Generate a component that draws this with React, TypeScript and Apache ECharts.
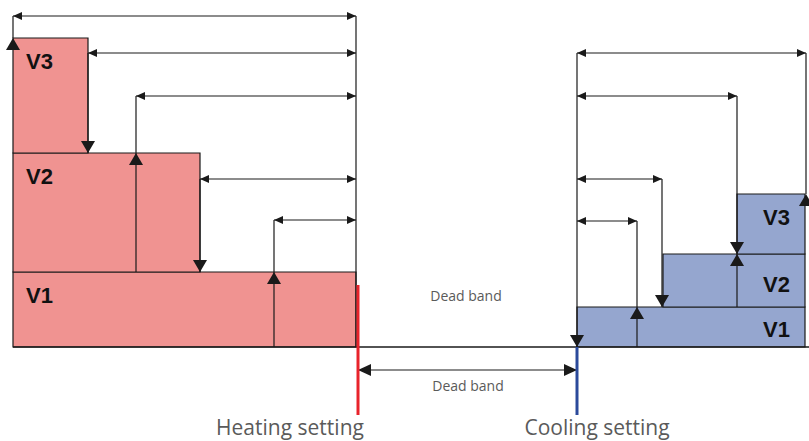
import React, { useEffect, useRef } from "react";
import * as echarts from "echarts";

// ---- data (x: temperature scale units, y: capacity level units; 0 = baseline) ----
const stepLabels = ["V1", "V2", "V3"];

const heatLeft = 13;
const heatRight = [356, 200, 88];
const heatBottom = [0, 75, 194];
const heatTop = [75, 194, 309];

const coolRight = 805;
const coolLeft = [577, 663, 737];
const coolBottom = [0, 40, 93];
const coolTop = [40, 93, 153];

const heatSetX = 358;
const coolSetX = 577;
const axisStart = 13;
const axisEnd = 809;

// horizontal dimension arrows: [level, xFrom, xTo]
const heatDims = [
  [331, 13, 356],
  [294, 88, 356],
  [251, 136, 356],
  [168, 200, 356],
  [127, 274, 356],
];
const coolDims = [
  [294, 577, 806],
  [251, 577, 737],
  [168, 577, 662],
  [126, 577, 637],
];
// vertical connectors: [x, levelFrom, levelTo, tipLevel, dir(1 up, -1 down, 0 none)]
const heatVert = [
  [13, 331, 309, 309, 1],
  [88, 294, 194, 194, -1],
  [136, 251, 75, 194, 1],
  [200, 168, 75, 75, -1],
  [274, 127, 0, 75, 1],
  [356, 331, 0, 0, 0],
];
const coolVert = [
  [806, 294, 153, 153, 1],
  [737, 251, 93, 93, -1],
  [662, 168, 40, 40, -1],
  [637, 126, 0, 40, 1],
  [737, 40, 93, 93, 1],
  [577, 294, 0, 0, -1],
];
// setting lines: [x, levelTop, levelBottom]
const settingLines = [
  [heatSetX, 62, -68],
  [coolSetX, 0, -68],
];
const deadBand = [[-23, heatSetX, coolSetX]];

const annoTexts = ["Dead band", "Dead band", "Heating setting", "Cooling setting"];
const annoPos = [
  [466, 52],
  [468, -38],
  [290, -80],
  [597, -80],
];
// cooling label levels (centre of each label)
const coolLabelLevels = [18, 63, 130];

const STROKE = "#1a1a1a";
const PINK = "#f09391";
const BLUE = "#95a6cf";
const TEXT_GRAY = "#5a5a5a";

function head(tip: number[], dir: string, len: number, half: number) {
  const [x, y] = tip;
  let pts: number[][];
  if (dir === "up") pts = [[x, y], [x - half, y + len], [x + half, y + len]];
  else if (dir === "down") pts = [[x, y], [x - half, y - len], [x + half, y - len]];
  else if (dir === "left") pts = [[x, y], [x + len, y - half], [x + len, y + half]];
  else pts = [[x, y], [x - len, y - half], [x - len, y + half]];
  return { type: "polygon", shape: { points: pts }, style: { fill: STROKE } };
}

function line(a: number[], b: number[], color = STROKE, w = 1.2) {
  return {
    type: "line",
    shape: { x1: a[0], y1: a[1], x2: b[0], y2: b[1] },
    style: { stroke: color, lineWidth: w },
  };
}

const heatRects = stepLabels.map((_, i) => [heatLeft, heatRight[i], heatBottom[i], heatTop[i], i]);
const coolRects = stepLabels.map((_, i) => [coolLeft[i], coolRight, coolBottom[i], coolTop[i], i]);

function rectRenderer(fill: string, side: string) {
  return (params: any, api: any) => {
    const x0 = api.value(0), x1 = api.value(1), y0 = api.value(2), y1 = api.value(3);
    const idx = api.value(4);
    const tl = api.coord([x0, y1]);
    const br = api.coord([x1, y0]);
    const children: any[] = [
      {
        type: "rect",
        shape: { x: tl[0], y: tl[1], width: br[0] - tl[0], height: br[1] - tl[1] },
        style: { fill, stroke: STROKE, lineWidth: 1.2 },
      },
    ];
    const textStyle = {
      text: stepLabels[idx],
      font: "bold 22px 'Liberation Sans', Arial, sans-serif",
      fill: "#111",
      verticalAlign: "middle",
    };
    if (side === "left") {
      children.push({ type: "text", x: tl[0] + 13, y: tl[1] + 23, style: { ...textStyle, align: "left" } });
    } else {
      const ly = api.coord([x1, coolLabelLevels[idx]])[1];
      children.push({ type: "text", x: br[0] - 15, y: ly, style: { ...textStyle, align: "right" } });
    }
    return { type: "group", children };
  };
}

function dimRenderer(len: number, half: number) {
  return (params: any, api: any) => {
    const lv = api.value(0), xa = api.value(1), xb = api.value(2);
    const a = api.coord([xa, lv]);
    const b = api.coord([xb, lv]);
    return {
      type: "group",
      children: [line(a, b), head(a, "left", len, half), head(b, "right", len, half)],
    };
  };
}

function vertRenderer(params: any, api: any) {
  const x = api.value(0), ya = api.value(1), yb = api.value(2), tip = api.value(3), dir = api.value(4);
  const a = api.coord([x, ya]);
  const b = api.coord([x, yb]);
  const children: any[] = [line(a, b)];
  if (dir !== 0) {
    const t = api.coord([x, tip]);
    children.push(head(t, dir > 0 ? "up" : "down", 12, 7));
  }
  return { type: "group", children };
}

export default function App() {
  const ref = useRef<HTMLDivElement>(null);
  useEffect(() => {
    const chart = echarts.init(ref.current!, null, { renderer: "svg" });
    const option: any = {
      animation: false,
      grid: { left: 0, right: 0, top: 0, bottom: 0 },
      xAxis: { type: "value", min: 0, max: 809, show: false },
      yAxis: { type: "value", min: -94, max: 347, show: false },
      series: [
        {
          type: "custom",
          silent: true,
          coordinateSystem: "cartesian2d",
          data: heatRects,
          encode: { x: [0, 1], y: [2, 3] },
          renderItem: rectRenderer(PINK, "left"),
          z: 1,
        },
        {
          type: "custom",
          silent: true,
          coordinateSystem: "cartesian2d",
          data: coolRects,
          encode: { x: [0, 1], y: [2, 3] },
          renderItem: rectRenderer(BLUE, "right"),
          z: 1,
        },
        {
          type: "custom",
          silent: true,
          coordinateSystem: "cartesian2d",
          data: [[0, axisStart, axisEnd]],
          encode: { x: [1, 2], y: 0 },
          renderItem: (p: any, api: any) =>
            line(api.coord([api.value(1), api.value(0)]), api.coord([api.value(2), api.value(0)]), STROKE, 1.5),
          z: 2,
        },
        {
          type: "custom",
          silent: true,
          coordinateSystem: "cartesian2d",
          data: [...heatDims, ...coolDims],
          encode: { x: [1, 2], y: 0 },
          renderItem: dimRenderer(9, 4),
          z: 3,
        },
        {
          type: "custom",
          silent: true,
          coordinateSystem: "cartesian2d",
          data: [...heatVert, ...coolVert],
          encode: { x: 0, y: [1, 2] },
          renderItem: vertRenderer,
          z: 3,
        },
        {
          type: "custom",
          silent: true,
          coordinateSystem: "cartesian2d",
          data: deadBand,
          encode: { x: [1, 2], y: 0 },
          renderItem: dimRenderer(13, 6),
          z: 3,
        },
        {
          type: "custom",
          silent: true,
          coordinateSystem: "cartesian2d",
          data: settingLines,
          encode: { x: 0, y: [1, 2] },
          renderItem: (p: any, api: any) =>
            line(
              api.coord([api.value(0), api.value(1)]),
              api.coord([api.value(0), api.value(2)]),
              p.dataIndex === 0 ? "#e8232b" : "#2b4a9b",
              3
            ),
          z: 4,
        },
        {
          type: "custom",
          silent: true,
          coordinateSystem: "cartesian2d",
          data: annoPos.map((p, i) => [p[0], p[1], i]),
          encode: { x: 0, y: 1 },
          renderItem: (p: any, api: any) => {
            const i = api.value(2);
            const c = api.coord([api.value(0), api.value(1)]);
            const big = i >= 2;
            return {
              type: "text",
              x: c[0],
              y: c[1],
              style: {
                text: annoTexts[i],
                font: `${big ? 21 : 14}px 'Open Sans', 'Noto Sans', sans-serif`,
                fill: TEXT_GRAY,
                align: "center",
                verticalAlign: "middle",
              },
            };
          },
          z: 5,
        },
      ],
    };
    chart.setOption(option);
    return () => chart.dispose();
  }, []);
  return (
    <div
      ref={ref}
      style={{ position: "fixed", left: 0, top: 0, width: 809, height: 441, background: "#fff" }}
    />
  );
}
